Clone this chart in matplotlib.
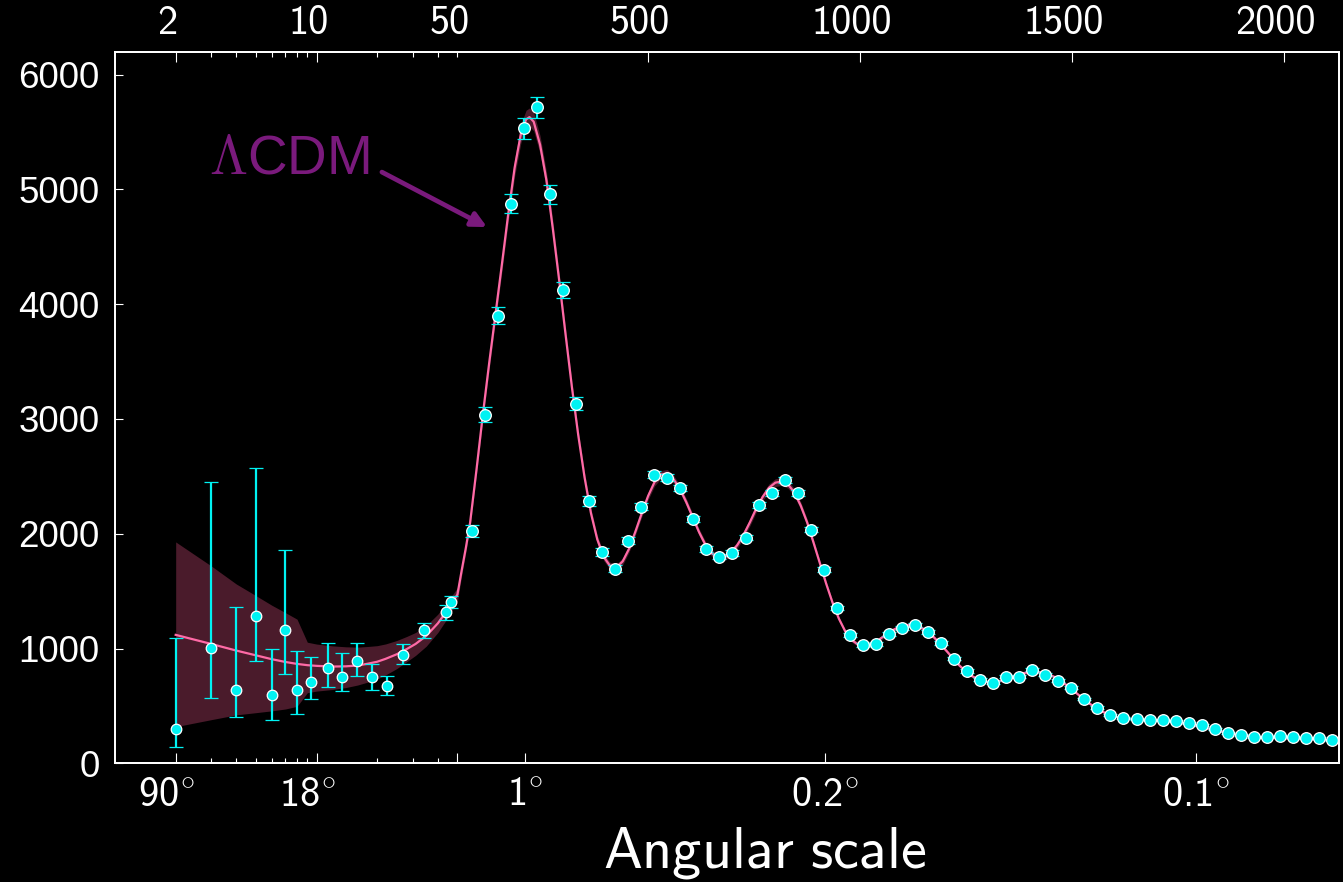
import numpy as np
import matplotlib
matplotlib.use("Agg")
import matplotlib.pyplot as plt
from matplotlib.ticker import FixedLocator, FixedFormatter, NullFormatter
from matplotlib.transforms import ScaledTranslation

plt.rcParams['mathtext.fontset'] = 'cm'

# ---------------- data ----------------
# low-ell points (unbinned / lightly binned)
low_ell = [2, 3, 4, 5, 6, 7, 8, 9.4, 11.4, 13.4, 15.9, 18.8, 22.3, 26.7, 34.2, 44.0, 46.5]
low_dl = [296, 1003, 642, 1282, 596, 1160, 636, 706, 828, 753, 889, 750, 671, 942, 1160, 1317, 1404]
low_err_lo = [156, 434, 238, 387, 218, 384, 209, 142, 163, 123, 128, 111, 78, 79, 70, 70, 52]
low_err_hi = [799, 1447, 721, 1290, 398, 700, 346, 224, 224, 206, 157, 116, 93, 98, 66, 63, 52]

# binned high-ell points
high_ell = [84.0, 114.8, 145.5, 176.3, 207.0, 237.8, 268.5, 299.3, 330.0, 360.8,
            391.5, 422.3, 453.0, 483.8, 514.5, 545.3, 576.0, 606.8, 637.5, 668.3,
            699.0, 729.8, 760.5, 791.3, 822.0, 852.8, 883.5, 914.3, 945.0, 975.8,
            1006.5, 1037.3, 1068.0, 1098.8, 1129.5, 1160.3, 1191.0, 1221.8, 1252.5, 1283.3,
            1314.0, 1344.8, 1375.5, 1406.3, 1437.0, 1467.8, 1498.5, 1529.3, 1560.0, 1590.8,
            1621.5, 1652.3, 1683.0, 1713.8, 1744.5, 1775.3, 1806.0, 1836.8, 1867.5, 1898.3,
            1929.0, 1959.8, 1990.5, 2021.3, 2052.0, 2082.8, 2113.5]
high_dl = [2023, 3037, 3900, 4877, 5532, 5716, 4957, 4125, 3134, 2288,
           1843, 1696, 1939, 2235, 2513, 2487, 2400, 2130, 1868, 1800,
           1833, 1967, 2252, 2356, 2469, 2356, 2034, 1686, 1355, 1119,
           1031, 1040, 1127, 1180, 1206, 1145, 1049, 910, 805, 727,
           701, 753, 753, 814, 770, 718, 657, 561, 483, 421,
           395, 386, 378, 378, 369, 351, 334, 299, 264, 247,
           230, 230, 238, 230, 221, 221, 203]
high_err = [55, 65, 75, 85, 90, 90, 80, 70, 55, 45,
            35, 30, 30, 30, 30, 30, 28, 26, 25, 24,
            24, 24, 24, 24, 24, 24, 22, 20, 18, 17,
            16, 16, 16, 16, 16, 15, 15, 14, 14, 13,
            13, 13, 13, 13, 13, 13, 13, 12, 12, 12,
            12, 12, 12, 12, 12, 12, 12, 12, 12, 12,
            12, 12, 12, 12, 12, 12, 12]

# best-fit model curve and its uncertainty band
theory_ell = [2, 3, 4, 5, 6, 7, 8, 9, 10, 12, 14, 16, 18, 20, 22, 25, 28, 31, 35, 40, 45, 50,
              60, 70, 80, 95, 110, 125, 140, 155, 170, 185, 200, 212, 220, 230, 245, 260, 275, 290,
              305, 320, 335, 350, 365, 380, 395, 410, 425, 440, 455, 470, 485, 500, 515, 530,
              545, 560, 575, 590, 605, 620, 635, 650, 665, 680, 695, 710, 725, 740, 755, 770,
              785, 800, 815, 830, 845, 860, 875, 890, 905, 920, 935, 950, 965, 980, 995, 1010,
              1025, 1040, 1055, 1070, 1085, 1100, 1115, 1130, 1145, 1160, 1175, 1190, 1205, 1220,
              1235, 1250, 1265, 1280, 1295, 1310, 1325, 1340, 1355, 1370, 1385, 1400, 1415, 1430,
              1445, 1460, 1475, 1490, 1505, 1520, 1535, 1550, 1565, 1580, 1595, 1610, 1625, 1640,
              1655, 1670, 1685, 1700, 1715, 1730, 1745, 1760, 1775, 1790, 1805, 1820, 1835, 1850,
              1865, 1880, 1895, 1910, 1925, 1940, 1955, 1970, 1985, 2000, 2015, 2030, 2045, 2060,
              2075, 2090, 2105, 2120, 2130]
theory_dl = [1119, 1040, 982, 941, 907, 883, 866, 855, 849, 843, 845, 852, 868, 885, 910, 950, 995, 1040, 1110, 1220, 1345, 1470,
             1680, 1880, 2100, 2560, 3040, 3490, 3920, 4350, 4790, 5190, 5490, 5610, 5630, 5590, 5390, 5080, 4660, 4210,
             3740, 3280, 2860, 2490, 2180, 1950, 1800, 1720, 1705, 1760, 1870, 2020, 2180, 2330, 2450, 2515,
             2525, 2475, 2390, 2275, 2145, 2015, 1905, 1830, 1790, 1795, 1835, 1900, 1990, 2100, 2220, 2320,
             2400, 2445, 2455, 2430, 2360, 2245, 2100, 1925, 1745, 1565, 1400, 1260, 1150, 1075, 1035, 1025,
             1035, 1065, 1105, 1145, 1175, 1195, 1205, 1200, 1180, 1145, 1095, 1035, 975, 910,
             850, 800, 758, 728, 712, 706, 712, 728, 748, 768, 785, 795, 797, 790,
             775, 750, 715, 673, 628, 582, 538, 498, 463, 436, 415, 400, 391, 386,
             383, 381, 378, 375, 371, 365, 358, 350, 340, 329, 317, 304, 291, 279,
             267, 257, 248, 241, 235, 230, 226, 223, 221, 219, 217, 215, 213, 211,
             208, 205, 202, 199, 197]
band_lo = [800, 660, 560, 500, 450, 410, 370, 240, 220, 200, 185, 170, 160, 150, 140, 125, 110, 100, 90, 80, 70, 60,
           45, 40, 40, 45, 50, 55, 60, 65, 70, 75, 80, 80, 80, 80, 78, 75, 70, 65,
           60, 55, 50, 45, 40, 36, 33, 31, 30, 30, 30, 31, 32, 33, 34, 35,
           35, 34, 33, 32, 31, 30, 29, 28, 28, 28, 28, 29, 30, 31, 32, 33,
           34, 34, 34, 34, 33, 32, 30, 28, 26, 24, 22, 20, 19, 18, 18, 18,
           18, 18, 18, 19, 19, 19, 19, 19, 19, 19, 18, 17, 16, 15,
           14, 14, 13, 13, 13, 13, 13, 13, 13, 13, 13, 13, 13, 13,
           13, 13, 12, 12, 12, 11, 11, 10, 10, 10, 10, 10, 10, 10,
           10, 10, 10, 10, 10, 10, 10, 10, 10, 10, 10, 10, 10, 10,
           10, 10, 10, 10, 10, 10, 10, 10, 10, 10, 10, 10, 10, 10,
           10, 10, 10, 10, 10]
band_hi = [810, 680, 580, 520, 470, 430, 390, 200, 190, 180, 170, 160, 150, 140, 130, 120, 110, 100, 90, 80, 70, 60,
           45, 40, 40, 45, 50, 55, 60, 65, 70, 75, 80, 80, 80, 80, 78, 75, 70, 65,
           60, 55, 50, 45, 40, 36, 33, 31, 30, 30, 30, 31, 32, 33, 34, 35,
           35, 34, 33, 32, 31, 30, 29, 28, 28, 28, 28, 29, 30, 31, 32, 33,
           34, 34, 34, 34, 33, 32, 30, 28, 26, 24, 22, 20, 19, 18, 18, 18,
           18, 18, 18, 19, 19, 19, 19, 19, 19, 19, 18, 17, 16, 15,
           14, 14, 13, 13, 13, 13, 13, 13, 13, 13, 13, 13, 13, 13,
           13, 13, 12, 12, 12, 11, 11, 10, 10, 10, 10, 10, 10, 10,
           10, 10, 10, 10, 10, 10, 10, 10, 10, 10, 10, 10, 10, 10,
           10, 10, 10, 10, 10, 10, 10, 10, 10, 10, 10, 10, 10, 10,
           10, 10, 10, 10, 10]

# axis ticks
bottom_ticks = [2, 10, 50, 209, 917, 1793]
bottom_labels = [r'90$^{\circ}$', r'18$^{\circ}$', '', r'1$^{\circ}$',
                 r'0.2$^{\circ}$', r'0.1$^{\circ}$']
top_ticks = [2, 10, 500, 1000, 1500, 2000]
top_labels = ['2', '10', '500', '1000', '1500', '2000']
minor_ticks = [3, 4, 5, 6, 7, 8, 9, 20, 30, 40]
y_ticks = [0, 1000, 2000, 3000, 4000, 5000, 6000]

# ---------------- hybrid log / linear multipole scale ----------------
L_SPLIT = 50.0
K_LIN = 0.0021029  # decades per unit multipole above the split


def fwd(ell):
    ell = np.asarray(ell, dtype=float)
    safe = np.clip(ell, 1e-6, None)
    return np.where(ell <= L_SPLIT, np.log10(safe), np.log10(L_SPLIT) + (ell - L_SPLIT) * K_LIN)


def inv(u):
    u = np.asarray(u, dtype=float)
    us = np.log10(L_SPLIT)
    return np.where(u <= us, 10 ** np.minimum(u, us), L_SPLIT + (u - us) / K_LIN)


W, H = 1343, 882
fig = plt.figure(figsize=(W / 100, H / 100), dpi=100, facecolor='black')
ax = fig.add_axes([115 / W, 1 - 763.3 / H, 1224 / W, (763.3 - 51.7) / H])
ax.set_facecolor('black')
ax.set_xscale('function', functions=(fwd, inv))
ax.set_xlim(1, 2130)
ax.set_ylim(0, 6200)

cyan = '#00f2f2'
pink = '#ff6aa6'
band_col = '#4a1b2b'
purple = '#7a1a7c'
sans_cm = 'cmss10'

t_ell = np.array(theory_ell)
t_dl = np.array(theory_dl)
ax.fill_between(t_ell, t_dl - np.array(band_lo), t_dl + np.array(band_hi),
                color=band_col, lw=0, zorder=1)
ax.plot(t_ell, t_dl, color=pink, lw=1.6, zorder=2)

ebkw = dict(fmt='o', color=cyan, ecolor=cyan, elinewidth=1.6, capsize=5.3, capthick=1.6,
            markerfacecolor=cyan, markeredgecolor='white', markeredgewidth=0.9, zorder=3)
ax.errorbar(low_ell, low_dl, yerr=[low_err_lo, low_err_hi], markersize=7.6, **ebkw)
ax.errorbar(high_ell, high_dl, yerr=high_err, markersize=8.4, **ebkw)

# annotation
ax.text(2.93, 5139, r'$\Lambda$CDM', color=purple, fontsize=39.5, family='Liberation Sans',
        ha='left', va='baseline', zorder=4)
ax.annotate('', xy=(119.8, 4672), xytext=(21.1, 5151),
            arrowprops=dict(arrowstyle='-|>', color=purple, lw=3.4, mutation_scale=22,
                            shrinkA=0, shrinkB=0), zorder=4)

# spines
for sp in ax.spines.values():
    sp.set_color('white')
    sp.set_linewidth(1.3)

# bottom axis: angular scale
ax.xaxis.set_major_locator(FixedLocator(bottom_ticks))
ax.xaxis.set_major_formatter(FixedFormatter(bottom_labels))
ax.xaxis.set_minor_locator(FixedLocator(minor_ticks))
ax.xaxis.set_minor_formatter(NullFormatter())
ax.tick_params(axis='x', which='major', direction='in', length=7, width=0.8, color='white',
               labelcolor='white', labelsize=29, pad=10, top=False)
ax.tick_params(axis='x', which='minor', direction='in', length=3.5, width=0.8, color='white',
               top=False)
for lab in ax.get_xticklabels():
    lab.set_family(sans_cm)

ax.yaxis.set_major_locator(FixedLocator(y_ticks))
ax.tick_params(axis='y', which='major', direction='in', length=6, width=0.8, color='white',
               labelcolor='white', labelsize=26.5, pad=11, right=False)
for lab in ax.get_yticklabels():
    lab.set_family('Liberation Sans')

ax.set_xlabel(r'$\mathsf{Angular\ scale}$', color='white', fontsize=42, labelpad=0)
ax.xaxis.set_label_coords(0.531, -0.085)

# top axis: multipole moment
ax2 = ax.twiny()
ax2.set_xscale('function', functions=(fwd, inv))
ax2.set_xlim(1, 2130)
ax2.xaxis.set_major_locator(FixedLocator(top_ticks))
ax2.xaxis.set_major_formatter(FixedFormatter(top_labels))
ax2.xaxis.set_minor_locator(FixedLocator(minor_ticks + [50]))
ax2.xaxis.set_minor_formatter(FixedFormatter([''] * len(minor_ticks) + ['50']))
ax2.tick_params(axis='x', which='major', direction='in', length=7, width=0.8, color='white',
                labelcolor='white', labelsize=29, pad=7, bottom=False)
ax2.tick_params(axis='x', which='minor', direction='in', length=3.5, width=0.8, color='white',
                labelcolor='white', labelsize=29, pad=7, bottom=False)
for sp in ax2.spines.values():
    sp.set_color('white')
    sp.set_linewidth(1.3)

# nudge tick labels slightly left, as in the original layout
shift_top = ScaledTranslation(-8 / 100, 0, fig.dpi_scale_trans)
for lab in ax2.get_xticklabels(which='both'):
    lab.set_family(sans_cm)
    lab.set_transform(lab.get_transform() + shift_top)
shift_bot = ScaledTranslation(-9 / 100, 0, fig.dpi_scale_trans)
for lab in ax.get_xticklabels()[:2]:
    lab.set_transform(lab.get_transform() + shift_bot)

fig.savefig('out.png', dpi=100, facecolor='black')
